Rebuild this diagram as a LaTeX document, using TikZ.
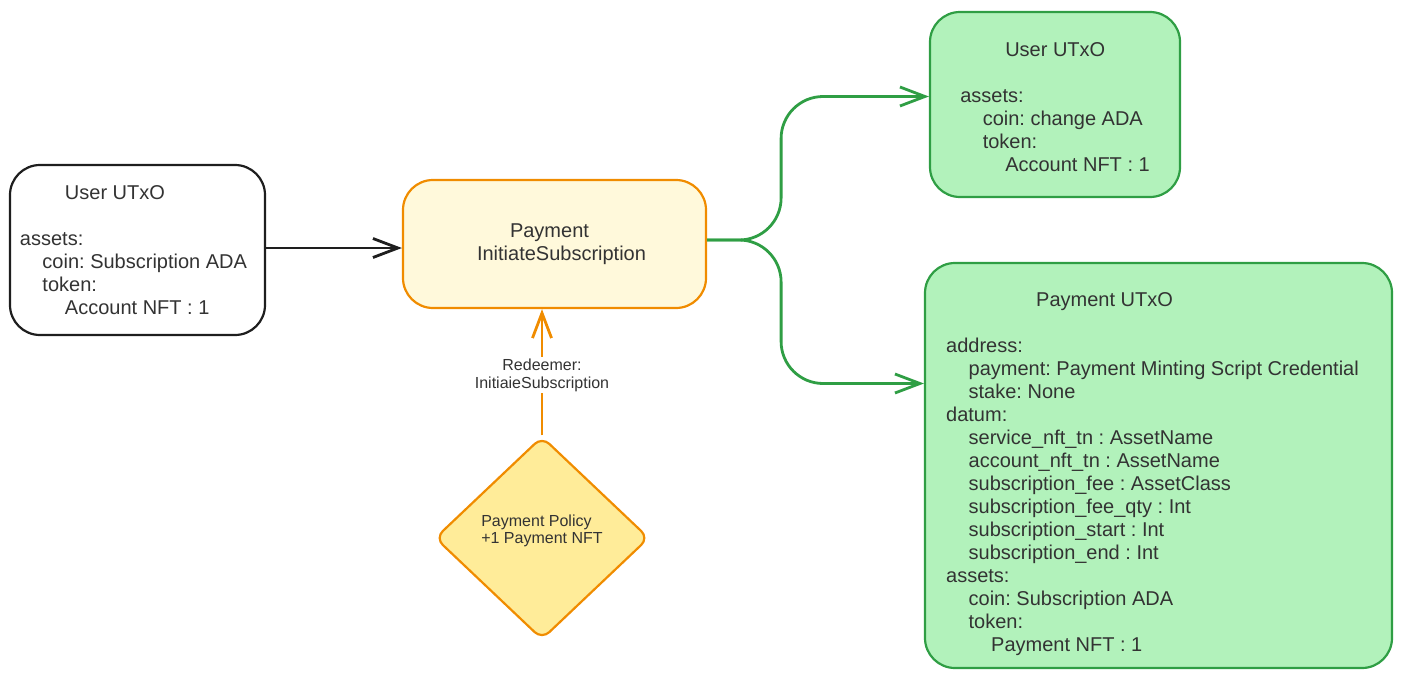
\documentclass[tikz,border=0pt]{standalone}
\usepackage{fontspec}
\setmainfont{Liberation Sans}
\usetikzlibrary{arrows.meta,shapes.geometric}
\definecolor{sketchgreen}{HTML}{2F9E44}
\definecolor{mintfill}{HTML}{B2F2BB}
\definecolor{amberline}{HTML}{F08C00}
\definecolor{creamfill}{HTML}{FFF9DB}
\definecolor{butterfill}{HTML}{FFEC99}
\definecolor{inkgray}{HTML}{333333}
\definecolor{inkblack}{HTML}{1E1E1E}
\newcommand{\idt}{\hspace*{22.5pt}}
\newcommand{\padr}[1]{\hbox to #1{}}

\begin{document}
\begin{tikzpicture}[x=1pt,y=-1pt,
  utxo/.style={draw,rounded corners=30pt,line width=2.2pt,align=left,text=inkgray,
    font=\fontsize{20}{23}\selectfont\frenchspacing},
  flow/.style={line width=2.8pt,-{Straight Barb[length=25pt,width=19pt]}},
  small/.style={text=inkgray,align=left,font=\fontsize{16}{17.5}\selectfont\frenchspacing}]
\useasboundingbox (0,0) rectangle (1402,680);
% inputs and validator
\node[utxo,draw=inkblack,fill=white,minimum width=255pt,minimum height=170pt] (userin) at (137.5,250)
  {\idt\idt User UTxO\\[23pt]assets:\\\idt coin: Subscription ADA\padr{8pt}\\\idt token:\\\idt\idt Account NFT : 1};
\node[utxo,draw=amberline,fill=creamfill,minimum width=303pt,minimum height=128pt] (pay) at (554.5,244)
  {\hspace*{47pt}Payment\\\hspace*{14pt}InitiateSubscription};
\node[small,draw=amberline,fill=butterfill,line width=2.2pt,shape=diamond,aspect=1.06,rounded corners=10pt,
  minimum width=214pt,minimum height=203pt,inner sep=0pt] (policy) at (542,538)
  {Payment Policy\\+1 Payment NFT\rule[-18pt]{0pt}{1pt}};
% outputs
\node[utxo,draw=sketchgreen,fill=mintfill,minimum width=250pt,minimum height=185pt] (userout) at (1055,104.5)
  {\rule{0pt}{20pt}\idt\idt User UTxO\\[23pt]assets:\\\idt coin: change ADA\padr{4pt}\\\idt token:\\\idt\idt Account NFT : 1};
\node[utxo,draw=sketchgreen,fill=mintfill,minimum width=467pt,minimum height=405pt] (payout) at (1158.5,465.5)
  {\rule{0pt}{32pt}\idt\idt\idt\idt Payment UTxO\\[23pt]address:\\\idt payment: Payment Minting Script Credential\padr{12pt}\\\idt stake: None\\
   datum:\\\idt service\_nft\_tn : AssetName\\\idt account\_nft\_tn : AssetName\\\idt subscription\_fee : AssetClass\\
   \idt subscription\_fee\_qty : Int\\\idt subscription\_start : Int\\\idt subscription\_end : Int\\
   assets:\\\idt coin: Subscription ADA\\\idt token:\\\idt\idt Payment NFT : 1};
% connectors
\draw[flow,draw=inkblack] ([yshift=2pt]userin.east) -- ([yshift=2pt]userin.east -| pay.west);
\draw[flow,draw=amberline] (policy.north) -- (policy.north |- pay.south)
  node[small,midway,fill=white,align=center,inner sep=2pt,yshift=-3pt] (redeemer) {Redeemer:\\InitiaieSubscription};
\draw[flow,draw=sketchgreen,rounded corners=42pt] ([yshift=4pt]pay.east) -- ++(74,0) |- ([yshift=8pt]userout.west);
\draw[flow,draw=sketchgreen,rounded corners=42pt] ([yshift=4pt]pay.east) -- ++(74,0) |- ([yshift=82pt]payout.west);
\end{tikzpicture}
\end{document}
